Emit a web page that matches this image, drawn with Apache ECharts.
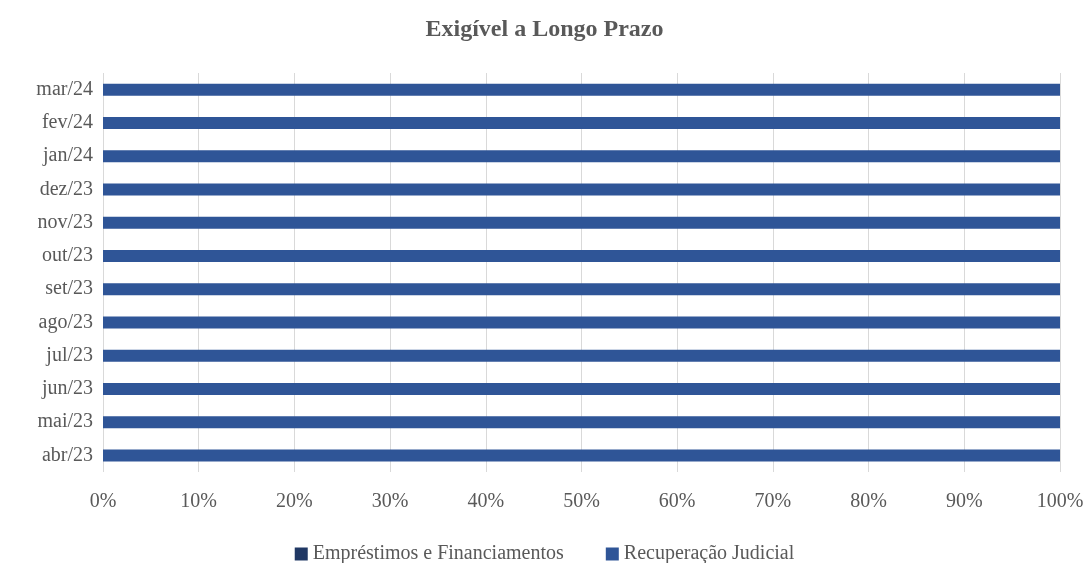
<!DOCTYPE html>
<html>
<head>
<meta charset="utf-8">
<script src="https://cdn.jsdelivr.net/npm/echarts@6/dist/echarts.min.js"></script>
<style>
  html, body { margin: 0; padding: 0; background: #fff; }
  #chart { width: 1089px; height: 563px; }
</style>
</head>
<body>
<div id="chart"></div>
<script>
// categories, bottom to top
const meses = ['abr/23', 'mai/23', 'jun/23', 'jul/23', 'ago/23', 'set/23',
  'out/23', 'nov/23', 'dez/23', 'jan/24', 'fev/24', 'mar/24']
// shares (%)
const emprestimos = [0, 0, 0, 0, 0, 0, 0, 0, 0, 0, 0, 0]
const recuperacao = [100, 100, 100, 100, 100, 100, 100, 100, 100, 100, 100, 100]
const serieNomes = ['Empréstimos e Financiamentos', 'Recuperação Judicial']

const font = 'Liberation Serif'
const chart = echarts.init(document.getElementById('chart'))
const option = {
  animation: false,
  title: {
    text: 'Exigível a Longo Prazo',
    left: 'center',
    top: 13,
    textStyle: { fontFamily: font, fontSize: 24, fontWeight: 'bold', color: '#595959' }
  },
  legend: {
    top: 539,
    left: 'center',
    itemWidth: 13,
    itemHeight: 13,
    itemGap: 42,
    icon: 'rect',
    textStyle: { fontFamily: font, fontSize: 20, color: '#595959' },
    data: serieNomes
  },
  grid: { left: 103, right: 29, top: 73, bottom: 91 },
  xAxis: {
    type: 'value',
    min: 0,
    max: 100,
    interval: 10,
    axisLine: { show: false },
    axisTick: { show: false },
    axisLabel: {
      formatter: '{value}%',
      fontFamily: font,
      fontSize: 20,
      color: '#595959',
      margin: 20
    },
    splitLine: { show: true, lineStyle: { color: '#D9D9D9', width: 1 } }
  },
  yAxis: {
    type: 'category',
    data: meses,
    axisLine: { show: false },
    axisTick: { show: false },
    axisLabel: { fontFamily: font, fontSize: 20, color: '#595959', margin: 10 }
  },
  series: [
    {
      name: serieNomes[0],
      type: 'bar',
      stack: 'total',
      barWidth: 12,
      data: emprestimos,
      itemStyle: { color: '#203864' }
    },
    {
      name: serieNomes[1],
      type: 'bar',
      stack: 'total',
      barWidth: 12,
      data: recuperacao,
      itemStyle: { color: '#2F5597' }
    }
  ]
}
chart.setOption(option)
</script>
</body>
</html>
